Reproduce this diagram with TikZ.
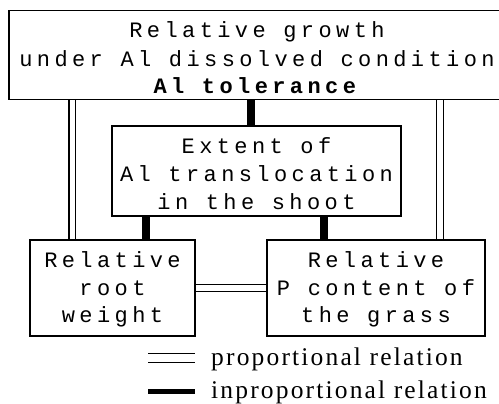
\documentclass[tikz,border=0pt]{standalone}
\usepackage{fontspec}
\newfontfamily\boxfont{Liberation Mono}[LetterSpace=20]
\newfontfamily\legfont{Liberation Serif}[LetterSpace=8.5]
\usetikzlibrary{backgrounds}
\newcommand\myup[1]{\rule{0pt}{#1pt}}
\newcommand\mydown[1]{\rule[-#1pt]{0pt}{0pt}}
\tikzset{
 box/.style={draw=black, fill=white, line width=1.3pt, inner sep=0pt, align=center, font=\boxfont\fontsize{22}{28}\selectfont},
 prop/.style={draw=black, double=white, line width=1.2pt, double distance=5.6pt},
 inprop/.style={draw=black, line width=8pt},
 legtext/.style={font=\legfont\fontsize{25.5}{30}\selectfont, anchor=base west, inner sep=0pt}
}
\begin{document}
\begin{tikzpicture}[x=1pt,y=-1pt]
\useasboundingbox (0,0) rectangle (499,404);
\node[box, minimum width=496pt] (top) at (257,55) {\myup{27.5}Relative growth\\under Al dissolved condition\\\textbf{Al tolerance}\mydown{5.5}};
\node[box, minimum width=289pt] (mid) at (256.5,171) {\myup{27}Extent of\\Al translocation\\in the shoot\mydown{7}};
\node[box, minimum width=165pt] (left) at (112.5,288) {\myup{27}Relative\\root\\weight\mydown{13}};
\node[box, minimum width=218pt] (right) at (376,288) {\myup{27}Relative\\P content of\\the grass\mydown{13}};
\begin{scope}[on background layer]
\draw[inprop] ([xshift=-6pt]mid.north) -- ([xshift=-6pt]mid.north |- top.south);
\draw[inprop] ([xshift=-110.5pt]mid.south) -- ([xshift=-110.5pt]mid.south |- left.north);
\draw[inprop] ([xshift=67.5pt]mid.south) -- ([xshift=67.5pt]mid.south |- right.north);
\draw[prop] ([xshift=43pt]left.north west) -- ([xshift=43pt]left.north west |- top.south);
\draw[prop] ([xshift=-45.5pt]right.north east) -- ([xshift=-45.5pt]right.north east |- top.south);
\draw[prop] (left.east) -- (right.west);
\end{scope}
\coordinate (pa) at (148,357.8);
\coordinate (pb) at (195,357.8);
\draw[prop, double distance=7.8pt] (pa) -- (pb);
\coordinate (ia) at (148,391.7);
\coordinate (ib) at (195,391.7);
\draw[draw=black, line width=4.5pt] (ia) -- (ib);
\node[legtext] (lp) at (211,365) {proportional relation};
\node[legtext] (li) at (211,398) {inproportional relation};
\end{tikzpicture}
\end{document}
